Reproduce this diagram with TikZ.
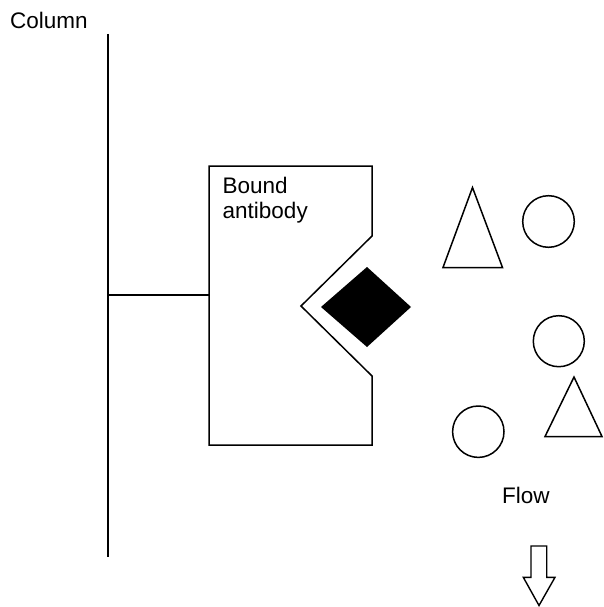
\documentclass[tikz,border=0pt]{standalone}
\usepackage{fontspec}
\setmainfont{Liberation Sans}
\begin{document}
\begin{tikzpicture}[x=1pt,y=-1pt,
  shape line/.style={draw=black,line width=1.5pt,line join=miter},
  label text/.style={anchor=base west,inner sep=0pt,font=\fontsize{22.5}{25}\selectfont}]
\useasboundingbox (0,0) rectangle (603,607);
% column
\node[label text] (coltext) at (10,28.5) {Column};
\coordinate (coltop) at (108,34);
\coordinate (colbot) at (108,557);
\draw[shape line] (coltop) -- (colbot);
\coordinate (linkA) at (108,295);
\coordinate (linkB) at (209,295);
\draw[shape line] (linkA) -- (linkB);
% bound antibody
\draw[shape line] (209,166) -- (372,166) -- (372,236) -- (301,306) -- (372,376) -- (372,445) -- (209,445) -- cycle;
\node[label text] (bound) at (222.5,193) {Bound};
\node[label text] (antibody) at (222.5,218) {antibody};
% antigen (diamond)
\fill[black] (321,307) -- (367,267) -- (411,307) -- (367,347) -- cycle;
% other molecules
\draw[shape line] (472.5,187.5) -- (502.5,267.5) -- (443,267.5) -- cycle;
\draw[shape line] (548.5,221.5) circle[radius=25.8pt];
\draw[shape line] (558.8,341.2) circle[radius=25.5pt];
\draw[shape line] (574,377) -- (602,436.5) -- (545,436.5) -- cycle;
\draw[shape line] (478.3,431.7) circle[radius=25.7pt];
% flow
\node[label text] (flow) at (502,503) {Flow};
\draw[line width=1.4pt,line join=miter] (531,546) -- (546.7,546) -- (546.7,577.3) -- (555,577.3) -- (539,605.5) -- (523.3,577.3) -- (531,577.3) -- cycle;
\end{tikzpicture}
\end{document}
